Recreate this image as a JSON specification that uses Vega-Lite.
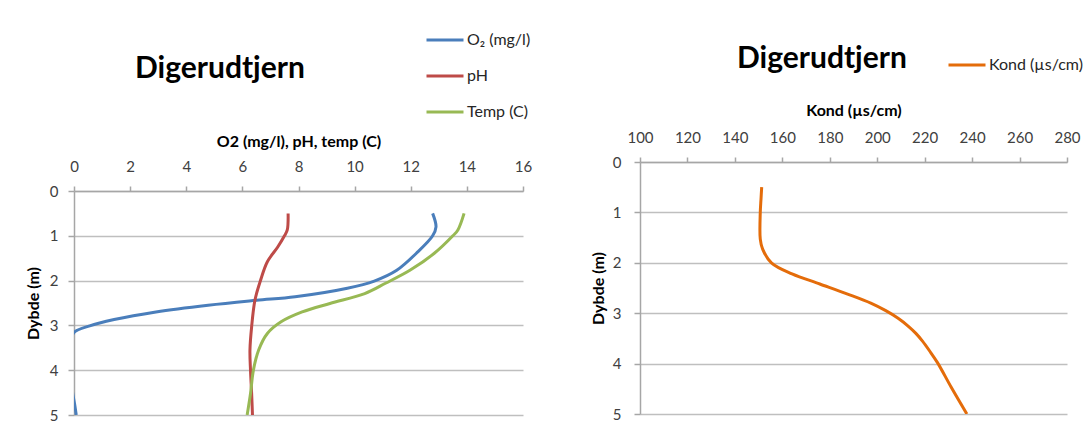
{
  "$schema": "https://vega.github.io/schema/vega-lite/v6.json",
  "background": "white",
  "padding": {"left": 25, "top": 30, "right": 0, "bottom": 0},
  "config": {
    "font": "Lato",
    "view": {"stroke": null},
    "axis": {
      "labelFont": "Lato", "labelFontSize": 15, "labelColor": "#404040",
      "titleFont": "Lato", "titleFontSize": 16, "titleFontWeight": "bold", "titleColor": "#000000",
      "domainColor": "#a6a6a6", "domainWidth": 1.5,
      "tickColor": "#a6a6a6", "tickWidth": 1.5,
      "gridColor": "#bfbfbf", "gridWidth": 1.5,
      "labelFlush": false, "labelOverlap": false
    },
    "legend": {
      "labelFont": "Lato", "labelFontSize": 16, "labelColor": "#262626",
      "symbolType": "stroke", "symbolSize": 1369, "symbolStrokeWidth": 3,
      "labelOffset": 2, "clipHeight": 18, "rowPadding": 18, "padding": 0
    },
    "title": {
      "font": "Lato", "fontSize": 30, "fontWeight": "bold", "color": "#000000",
      "anchor": "start", "frame": "group", "baseline": "alphabetic"
    }
  },
  "datasets": {
    "profil": [
      {"Serie": "O₂ (mg/l)", "Dybde": 0.5, "Verdi": 12.78},
      {"Serie": "O₂ (mg/l)", "Dybde": 0.8, "Verdi": 12.9},
      {"Serie": "O₂ (mg/l)", "Dybde": 1.0, "Verdi": 12.78},
      {"Serie": "O₂ (mg/l)", "Dybde": 1.39, "Verdi": 12.2},
      {"Serie": "O₂ (mg/l)", "Dybde": 1.77, "Verdi": 11.5},
      {"Serie": "O₂ (mg/l)", "Dybde": 2.01, "Verdi": 10.7},
      {"Serie": "O₂ (mg/l)", "Dybde": 2.17, "Verdi": 9.74},
      {"Serie": "O₂ (mg/l)", "Dybde": 2.36, "Verdi": 7.88},
      {"Serie": "O₂ (mg/l)", "Dybde": 2.44, "Verdi": 6.5},
      {"Serie": "O₂ (mg/l)", "Dybde": 2.55, "Verdi": 4.78},
      {"Serie": "O₂ (mg/l)", "Dybde": 2.7, "Verdi": 2.92},
      {"Serie": "O₂ (mg/l)", "Dybde": 2.87, "Verdi": 1.43},
      {"Serie": "O₂ (mg/l)", "Dybde": 3.01, "Verdi": 0.56},
      {"Serie": "O₂ (mg/l)", "Dybde": 3.16, "Verdi": 0.0},
      {"Serie": "O₂ (mg/l)", "Dybde": 3.4, "Verdi": -0.12},
      {"Serie": "O₂ (mg/l)", "Dybde": 4.0, "Verdi": -0.15},
      {"Serie": "O₂ (mg/l)", "Dybde": 4.5, "Verdi": -0.05},
      {"Serie": "O₂ (mg/l)", "Dybde": 4.75, "Verdi": 0.02},
      {"Serie": "O₂ (mg/l)", "Dybde": 5.0, "Verdi": 0.08},
      {"Serie": "pH", "Dybde": 0.5, "Verdi": 7.63},
      {"Serie": "pH", "Dybde": 0.87, "Verdi": 7.6},
      {"Serie": "pH", "Dybde": 1.0, "Verdi": 7.5},
      {"Serie": "pH", "Dybde": 1.25, "Verdi": 7.26},
      {"Serie": "pH", "Dybde": 1.58, "Verdi": 6.89},
      {"Serie": "pH", "Dybde": 2.01, "Verdi": 6.64},
      {"Serie": "pH", "Dybde": 2.43, "Verdi": 6.45},
      {"Serie": "pH", "Dybde": 3.03, "Verdi": 6.33},
      {"Serie": "pH", "Dybde": 3.55, "Verdi": 6.27},
      {"Serie": "pH", "Dybde": 4.01, "Verdi": 6.29},
      {"Serie": "pH", "Dybde": 4.52, "Verdi": 6.33},
      {"Serie": "pH", "Dybde": 5.0, "Verdi": 6.36},
      {"Serie": "Temp (C)", "Dybde": 0.5, "Verdi": 13.9},
      {"Serie": "Temp (C)", "Dybde": 0.87, "Verdi": 13.68},
      {"Serie": "Temp (C)", "Dybde": 1.0, "Verdi": 13.5},
      {"Serie": "Temp (C)", "Dybde": 1.39, "Verdi": 12.84},
      {"Serie": "Temp (C)", "Dybde": 1.77, "Verdi": 11.97},
      {"Serie": "Temp (C)", "Dybde": 2.06, "Verdi": 11.1},
      {"Serie": "Temp (C)", "Dybde": 2.29, "Verdi": 10.36},
      {"Serie": "Temp (C)", "Dybde": 2.51, "Verdi": 9.12},
      {"Serie": "Temp (C)", "Dybde": 2.7, "Verdi": 8.13},
      {"Serie": "Temp (C)", "Dybde": 2.92, "Verdi": 7.38},
      {"Serie": "Temp (C)", "Dybde": 3.18, "Verdi": 6.89},
      {"Serie": "Temp (C)", "Dybde": 3.55, "Verdi": 6.58},
      {"Serie": "Temp (C)", "Dybde": 4.01, "Verdi": 6.39},
      {"Serie": "Temp (C)", "Dybde": 4.52, "Verdi": 6.29},
      {"Serie": "Temp (C)", "Dybde": 5.0, "Verdi": 6.17}
    ],
    "kond": [
      {"Serie": "Kond (µs/cm)", "Dybde": 0.5, "Kond": 151.3},
      {"Serie": "Kond (µs/cm)", "Dybde": 0.74, "Kond": 151.0},
      {"Serie": "Kond (µs/cm)", "Dybde": 1.0, "Kond": 150.7},
      {"Serie": "Kond (µs/cm)", "Dybde": 1.53, "Kond": 150.7},
      {"Serie": "Kond (µs/cm)", "Dybde": 1.73, "Kond": 151.7},
      {"Serie": "Kond (µs/cm)", "Dybde": 2.0, "Kond": 155.4},
      {"Serie": "Kond (µs/cm)", "Dybde": 2.22, "Kond": 164.1},
      {"Serie": "Kond (µs/cm)", "Dybde": 2.42, "Kond": 175.8},
      {"Serie": "Kond (µs/cm)", "Dybde": 2.62, "Kond": 187.5},
      {"Serie": "Kond (µs/cm)", "Dybde": 2.8, "Kond": 197.3},
      {"Serie": "Kond (µs/cm)", "Dybde": 2.95, "Kond": 203.6},
      {"Serie": "Kond (µs/cm)", "Dybde": 3.1, "Kond": 208.8},
      {"Serie": "Kond (µs/cm)", "Dybde": 3.25, "Kond": 212.9},
      {"Serie": "Kond (µs/cm)", "Dybde": 3.4, "Kond": 216.3},
      {"Serie": "Kond (µs/cm)", "Dybde": 3.55, "Kond": 219.0},
      {"Serie": "Kond (µs/cm)", "Dybde": 3.75, "Kond": 222.1},
      {"Serie": "Kond (µs/cm)", "Dybde": 3.98, "Kond": 225.4},
      {"Serie": "Kond (µs/cm)", "Dybde": 4.47, "Kond": 231.2},
      {"Serie": "Kond (µs/cm)", "Dybde": 5.0, "Kond": 237.8}
    ]
  },
  "spacing": 58,
  "resolve": {"scale": {"color": "independent"}, "legend": {"color": "independent"}},
  "hconcat": [
    {
      "resolve": {"scale": {"color": "independent"}, "legend": {"color": "independent"}},
      "spacing": 0,
      "vconcat": [
        {
          "width": 1,
          "height": 1,
          "data": {"values": []},
          "mark": "point"
        },
        {
          "width": 449,
          "height": 224,
          "title": {"text": "Digerudtjern", "dx": 61, "offset": -53},
          "data": {"name": "profil"},
          "mark": {"type": "line", "interpolate": "catmull-rom", "strokeWidth": 3, "clip": true},
          "encoding": {
            "x": {
              "field": "Verdi", "type": "quantitative",
              "scale": {"domain": [0, 16], "nice": false, "zero": false},
              "axis": {
                "orient": "top", "title": "O2 (mg/l), pH, temp (C)",
                "values": [0, 2, 4, 6, 8, 10, 12, 14, 16],
                "grid": false, "tickSize": 5, "labelPadding": 12, "titlePadding": 10
              }
            },
            "y": {
              "field": "Dybde", "type": "quantitative",
              "scale": {"domain": [0, 5], "nice": false, "reverse": true},
              "axis": {
                "title": "Dybde (m)", "values": [0, 1, 2, 3, 4, 5],
                "grid": true, "tickSize": 6, "labelPadding": 10, "titlePadding": 8
              }
            },
            "color": {
              "field": "Serie", "type": "nominal",
              "scale": {"domain": ["O₂ (mg/l)", "pH", "Temp (C)"], "range": ["#4a7ebb", "#be4b48", "#98b954"]},
              "legend": {"title": null, "orient": "none", "legendX": 351, "legendY": -160}
            },
            "order": {"field": "Dybde", "type": "quantitative"}
          }
        }
      ]
    },
    {
      "resolve": {"scale": {"color": "independent"}, "legend": {"color": "independent"}},
      "spacing": 0,
      "vconcat": [
        {
          "width": 1,
          "height": 14,
          "data": {"values": []},
          "mark": "point"
        },
        {
          "width": 427,
          "height": 252,
          "title": {"text": "Digerudtjern", "dx": 97, "offset": -18},
          "data": {"name": "kond"},
          "mark": {"type": "line", "interpolate": "catmull-rom", "strokeWidth": 3, "clip": true},
          "encoding": {
            "x": {
              "field": "Kond", "type": "quantitative",
              "scale": {"domain": [100, 280], "nice": false, "zero": false},
              "axis": {
                "orient": "top", "title": "Kond (µs/cm)",
                "values": [100, 120, 140, 160, 180, 200, 220, 240, 260, 280],
                "grid": false, "tickSize": 5, "labelPadding": 12, "titlePadding": 12
              }
            },
            "y": {
              "field": "Dybde", "type": "quantitative",
              "scale": {"domain": [0, 5], "nice": false, "reverse": true},
              "axis": {
                "title": "Dybde (m)", "values": [0, 1, 2, 3, 4, 5],
                "grid": true, "tickSize": 6, "labelPadding": 13, "titlePadding": 6
              }
            },
            "color": {
              "field": "Serie", "type": "nominal",
              "scale": {"domain": ["Kond (µs/cm)"], "range": ["#e46c0a"]},
              "legend": {"title": null, "orient": "none", "legendX": 307, "legendY": -106}
            },
            "order": {"field": "Dybde", "type": "quantitative"}
          }
        }
      ]
    }
  ]
}
